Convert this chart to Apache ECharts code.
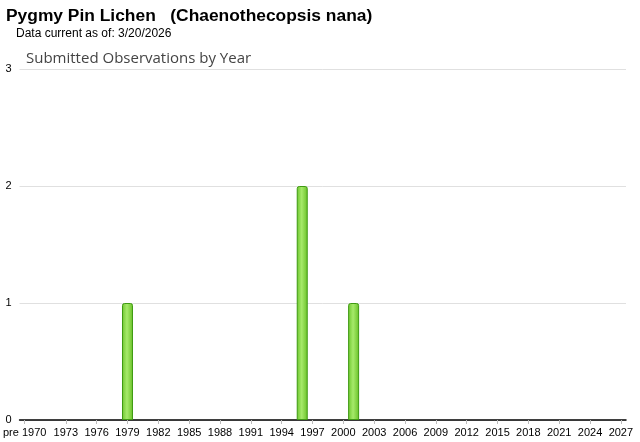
<!DOCTYPE html>
<html><head><meta charset="utf-8">
<script src="https://cdn.jsdelivr.net/npm/echarts@6/dist/echarts.min.js"></script>
<style>html,body{margin:0;padding:0;background:#fff}#c{width:640px;height:442px}</style>
</head><body><div id="c"></div>
<script>
const titleText = 'Pygmy Pin Lichen   (Chaenothecopsis nana)';
const subText = 'Data current as of: 3/20/2026';
const chartTitle = 'Submitted Observations by Year';
const years = [];
for (let y = 1970; y <= 2027; y++) years.push(String(y));
const categories = ['pre 1970'].concat(years);
const obsYears = ['1979', '1996', '2001'];
const obsCounts = [1, 2, 1];
const yTicks = [0, 1, 2, 3];

const values = categories.map(c => {
  const i = obsYears.indexOf(c);
  return i >= 0 ? obsCounts[i] : '-';
});
function showLabel(idx, val) {
  if (idx === 0) return true;
  const y = parseInt(val, 10);
  return y > 1970 && (y - 1970) % 3 === 0;
}
const chart = echarts.init(document.getElementById('c'), null, {renderer: 'canvas'});
chart.setOption({
  animation: false,
  title: [
    {text: titleText, left: 1, top: 3, textStyle: {fontFamily: 'Liberation Sans, Arial', fontSize: 17.4, fontWeight: 'bold', color: '#000'}},
    {text: subText, left: 11, top: 23, textStyle: {fontFamily: 'Liberation Sans, Arial', fontSize: 12, fontWeight: 'normal', color: '#000'}},
    {text: chartTitle, left: 21, top: 46, textStyle: {fontFamily: 'Open Sans, DejaVu Sans', fontSize: 15, fontWeight: 'normal', color: '#444'}}
  ],
  grid: {left: 18, right: 14, top: 69, bottom: 22, containLabel: false},
  xAxis: {
    type: 'category', data: categories,
    axisLine: {lineStyle: {color: '#000', width: 1.5}},
    axisTick: {show: true, alignWithLabel: true, interval: showLabel, length: 4, lineStyle: {color: '#bbb'}},
    axisLabel: {interval: showLabel, color: '#000', fontFamily: 'Liberation Sans, Arial', fontSize: 11, margin: 7},
    splitLine: {show: false}
  },
  yAxis: {
    type: 'value', min: 0, max: 3, interval: 1,
    axisLine: {show: false}, axisTick: {show: false},
    axisLabel: {color: '#000', fontFamily: 'Liberation Sans, Arial', fontSize: 11, margin: 8,
      formatter: v => yTicks.includes(v) ? String(v) : ''},
    splitLine: {lineStyle: {color: '#e0e0e0', width: 1}}
  },
  series: [{
    type: 'bar', data: values, barWidth: 11,
    itemStyle: {
      color: new echarts.graphic.LinearGradient(0, 0, 1, 0, [
        {offset: 0, color: '#6cc52c'},
        {offset: 0.45, color: '#a6ea6a'},
        {offset: 1, color: '#68c026'}
      ]),
      borderColor: '#3f9a12', borderWidth: 1, borderRadius: [2, 2, 0, 0]
    }
  }]
});
</script></body></html>
